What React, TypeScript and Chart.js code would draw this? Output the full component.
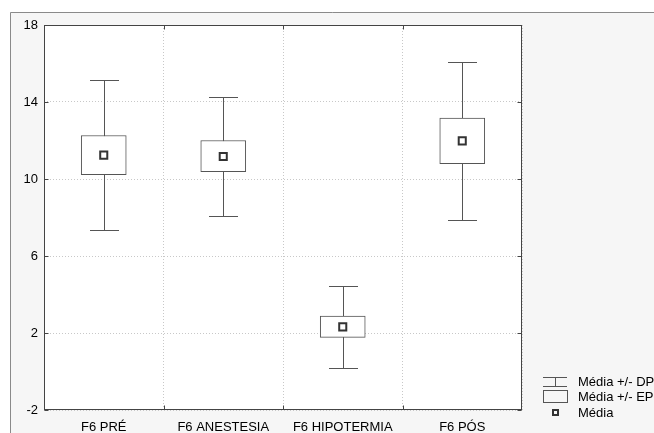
import React, { useEffect, useRef } from "react";
import { Chart, registerables } from "chart.js";

Chart.register(...registerables);

const categories = ["F6 PRÉ", "F6 ANESTESIA", "F6 HIPOTERMIA", "F6 PÓS"];
const means = [11.24, 11.17, 2.32, 11.98];
const seLow = [10.22, 10.38, 1.77, 10.8];
const seHigh = [12.26, 12.0, 2.88, 13.17];
const sdLow = [7.34, 8.07, 0.2, 7.86];
const sdHigh = [15.12, 14.26, 4.43, 16.09];
const yTicks = [-2, 2, 6, 10, 14, 18];
const legendLabels = ["Média +/- DP", "Média +/- EP", "Média"];

const LINE = "#555555";
const FAMILY = "Arial, 'Liberation Sans', sans-serif";
const FONT = "13px " + FAMILY;

const framePlugin = {
  id: "frame",
  beforeDraw(chart: any) {
    const { ctx, chartArea: a, width, height } = chart;
    ctx.save();
    ctx.fillStyle = "#ffffff";
    ctx.fillRect(0, 0, width, height);
    ctx.fillStyle = "#f6f6f6";
    ctx.fillRect(10, 12, width - 10, height - 12);
    ctx.strokeStyle = "#8a8a8a";
    ctx.lineWidth = 1;
    ctx.beginPath();
    ctx.moveTo(10.5, height);
    ctx.lineTo(10.5, 12.5);
    ctx.lineTo(width, 12.5);
    ctx.stroke();
    ctx.fillStyle = "#ffffff";
    ctx.fillRect(a.left, a.top, a.right - a.left, a.bottom - a.top);
    ctx.restore();
  },
  beforeDatasetsDraw(chart: any) {
    const { ctx } = chart;
    const xs = chart.scales.x;
    const ys = chart.scales.y;
    ctx.save();
    ctx.strokeStyle = LINE;
    ctx.lineWidth = 1;
    categories.forEach((_, i) => {
      const x = Math.round(xs.getPixelForValue(i)) + 0.5;
      const yHi = Math.round(ys.getPixelForValue(sdHigh[i])) + 0.5;
      const yLo = Math.round(ys.getPixelForValue(sdLow[i])) + 0.5;
      ctx.beginPath();
      ctx.moveTo(x, yHi);
      ctx.lineTo(x, yLo);
      ctx.moveTo(x - 14.5, yHi);
      ctx.lineTo(x + 14.5, yHi);
      ctx.moveTo(x - 14.5, yLo);
      ctx.lineTo(x + 14.5, yLo);
      ctx.stroke();
    });
    ctx.restore();
  },
  afterDraw(chart: any) {
    const { ctx, chartArea: a } = chart;
    const xs = chart.scales.x;
    const ys = chart.scales.y;
    ctx.save();
    ctx.strokeStyle = "#444444";
    ctx.lineWidth = 1;
    const l = Math.round(a.left) + 0.5;
    const r = Math.round(a.right) - 0.5;
    const t = Math.round(a.top) + 0.5;
    const b = Math.round(a.bottom) - 0.5;
    ctx.strokeRect(l, t, r - l, b - t);
    ctx.beginPath();
    yTicks.forEach((v) => {
      const y = Math.round(ys.getPixelForValue(v)) + 0.5;
      ctx.moveTo(l, y);
      ctx.lineTo(l + 4, y);
      ctx.moveTo(r, y);
      ctx.lineTo(r - 4, y);
    });
    for (let i = 1; i < categories.length; i++) {
      const x = Math.round((xs.getPixelForValue(i - 1) + xs.getPixelForValue(i)) / 2) + 0.5;
      ctx.moveTo(x, t);
      ctx.lineTo(x, t + 4);
      ctx.moveTo(x, b);
      ctx.lineTo(x, b - 4);
    }
    ctx.stroke();

    // legend
    const sx = 543;
    ctx.strokeStyle = LINE;
    ctx.beginPath();
    ctx.moveTo(sx, 377.5);
    ctx.lineTo(sx + 24, 377.5);
    ctx.moveTo(sx + 12.5, 377.5);
    ctx.lineTo(sx + 12.5, 386.5);
    ctx.moveTo(sx, 386.5);
    ctx.lineTo(sx + 24, 386.5);
    ctx.stroke();
    ctx.strokeRect(sx + 0.5, 390.5, 24, 12);
    ctx.strokeStyle = "#333333";
    ctx.lineWidth = 2;
    ctx.strokeRect(sx + 10, 410, 5, 5);
    ctx.fillStyle = "#000000";
    ctx.font = FONT;
    ctx.textBaseline = "middle";
    ctx.textAlign = "left";
    const ly = [382, 397, 413];
    legendLabels.forEach((s, i) => ctx.fillText(s, 578, ly[i]));
    ctx.restore();
  },
};

export default function App() {
  const ref = useRef<HTMLCanvasElement | null>(null);
  useEffect(() => {
    if (!ref.current) return;
    const boxData = categories.map((_, i) => [seLow[i], seHigh[i]]);
    const chart = new Chart(ref.current, {
      type: "bar",
      data: {
        labels: categories,
        datasets: [
          {
            type: "line",
            data: means,
            showLine: false,
            pointStyle: "rect",
            pointRadius: 5,
            pointBorderWidth: 2,
            pointBorderColor: "#333333",
            pointBackgroundColor: "#ffffff",
            order: 0,
          } as any,
          {
            type: "bar",
            data: boxData as any,
            backgroundColor: "#ffffff",
            borderColor: LINE,
            borderWidth: 1,
            borderSkipped: false,
            barThickness: 45,
            order: 1,
          } as any,
        ],
      },
      options: {
        animation: false,
        responsive: true,
        maintainAspectRatio: false,
        events: [],
        layout: { padding: { left: 0, top: 25, right: 132, bottom: 0 } },
        plugins: { legend: { display: false }, tooltip: { enabled: false } },
        scales: {
          x: {
            offset: true,
            grid: {
              offset: true,
              drawTicks: false,
              color: "#c8c8c8",
              lineWidth: 1,
            },
            border: { display: false, dash: [1, 2] },
            ticks: { color: "#000000", font: { family: FAMILY, size: 13 }, padding: 10 },
            afterFit: (s: any) => {
              s.height = 23;
            },
          },
          y: {
            min: -2,
            max: 18,
            afterBuildTicks: (s: any) => {
              s.ticks = yTicks.map((v) => ({ value: v }));
            },
            grid: { drawTicks: false, color: "#c8c8c8", lineWidth: 1 },
            border: { display: false, dash: [1, 2] },
            ticks: { color: "#000000", font: { family: FAMILY, size: 13 }, padding: 6 },
            afterFit: (s: any) => {
              s.width = 44;
            },
          },
        },
      },
      plugins: [framePlugin],
    });
    return () => chart.destroy();
  }, []);
  return (
    <div style={{ position: "fixed", left: 0, top: 0, width: 654, height: 433 }}>
      <canvas ref={ref} />
    </div>
  );
}
